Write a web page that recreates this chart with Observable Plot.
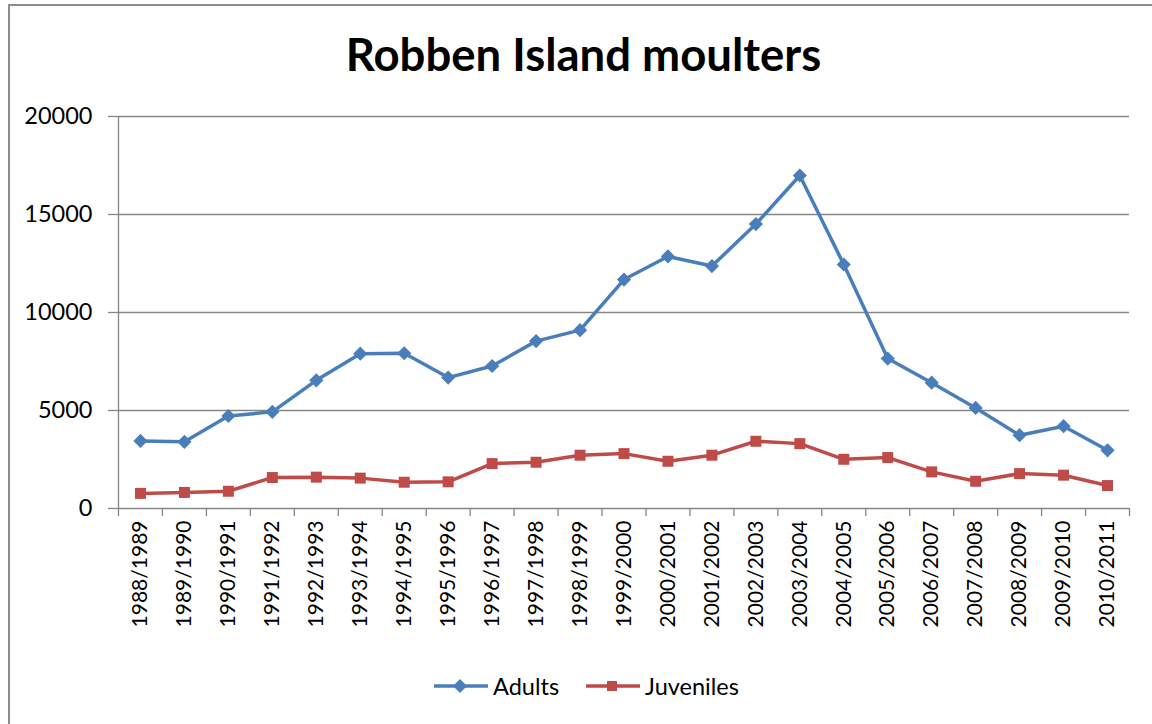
<!DOCTYPE html>
<html><head><meta charset="utf-8">
<script src="https://cdn.jsdelivr.net/npm/d3@7"></script>
<script src="https://cdn.jsdelivr.net/npm/@observablehq/plot@0.6"></script>
<style>
html,body{margin:0;padding:0;background:#fff;}
#wrap{position:relative;width:1152px;height:724px;overflow:hidden;font-family:Lato,sans-serif;color:#000;}
#frame{position:absolute;left:8px;top:4px;width:1300px;height:900px;border-left:2px solid #8c8c8c;border-top:2px solid #8c8c8c;}
#title{position:absolute;left:0;width:1167px;top:27px;text-align:center;font-weight:bold;font-size:45.5px;line-height:54px;}
#chart{position:absolute;left:0;top:90px;}
#legend{position:absolute;left:433px;top:671px;display:flex;align-items:center;font-size:23.5px;line-height:30px;}
#legend .item{display:flex;align-items:center;}
#legend svg{display:block;}
</style>
</head><body>
<div id="wrap">
  <div id="frame"></div>
  <div id="title">Robben Island moulters</div>
  <div id="chart"></div>
  <div id="legend"></div>
</div>
<script>
const categories = ["1988/1989","1989/1990","1990/1991","1991/1992","1992/1993","1993/1994","1994/1995","1995/1996","1996/1997","1997/1998","1998/1999","1999/2000","2000/2001","2001/2002","2002/2003","2003/2004","2004/2005","2005/2006","2006/2007","2007/2008","2008/2009","2009/2010","2010/2011"];
const adults = [3450, 3400, 4720, 4930, 6540, 7900, 7920, 6680, 7270, 8540, 9100, 11680, 12860, 12370, 14510, 16990, 12450, 7650, 6420, 5130, 3740, 4200, 2970];
const juveniles = [770, 820, 880, 1580, 1600, 1550, 1340, 1360, 2290, 2360, 2720, 2800, 2410, 2720, 3430, 3310, 2510, 2600, 1870, 1390, 1780, 1700, 1170];
const yTicks = [0, 5000, 10000, 15000, 20000];
const seriesNames = ["Adults", "Juveniles"];
const seriesColors = ["#4A7EBB", "#BE4B48"];

const centers = categories.map((c, i) => i + 0.5);
const boundaries = d3.range(0, categories.length + 1);
const adultRows = categories.map((c, i) => ({pos: centers[i], cat: c, value: adults[i]}));
const juvRows = categories.map((c, i) => ({pos: centers[i], cat: c, value: juveniles[i]}));
const gray = "#868686";

const chart = Plot.plot({
  width: 1152, height: 560,
  marginLeft: 118, marginRight: 23, marginTop: 26, marginBottom: 142,
  style: {fontFamily: "Lato, sans-serif", fontSize: "22px", color: "#000", background: "transparent", overflow: "visible"},
  x: {type: "linear", domain: [0, categories.length], axis: null},
  y: {domain: [0, 20000], axis: null},
  marks: [
    Plot.ruleY(yTicks.slice(1), {stroke: gray, strokeWidth: 1.3}),
    Plot.ruleY([0], {stroke: gray, strokeWidth: 1.3}),
    Plot.ruleX([0], {stroke: gray, strokeWidth: 1.3}),
    Plot.axisY({ticks: yTicks, tickSize: 10, tickPadding: 16, stroke: gray, strokeWidth: 1.3, fill: "#000", fontSize: 23.5, tickFormat: d => String(d), label: null}),
    Plot.axisX({ticks: boundaries, tickSize: 8, stroke: gray, strokeWidth: 1.3, tickFormat: () => "", label: null}),
    Plot.axisX({ticks: centers, tickSize: 0, tickPadding: 12, tickRotate: -90, fill: "#000", fontSize: 21,
      tickFormat: d => categories[Math.round(d - 0.5)], label: null}),
    Plot.line(adultRows, {x: "pos", y: "value", stroke: seriesColors[0], strokeWidth: 3.5}),
    Plot.dot(adultRows, {x: "pos", y: "value", symbol: "diamond2", r: 6.4, fill: seriesColors[0], stroke: "none"}),
    Plot.line(juvRows, {x: "pos", y: "value", stroke: seriesColors[1], strokeWidth: 3.5}),
    Plot.dot(juvRows, {x: "pos", y: "value", symbol: "square", r: 6.2, fill: seriesColors[1], stroke: "none"})
  ]
});
document.getElementById("chart").appendChild(chart);

// legend
const legend = document.getElementById("legend");
const symbols = ["diamond", "square"];
seriesNames.forEach((name, i) => {
  const item = document.createElement("div");
  item.className = "item";
  item.style.marginRight = i === 0 ? "26px" : "0";
  const sw = d3.create("svg").attr("width", 56).attr("height", 20);
  sw.append("line").attr("x1", 1).attr("x2", 55).attr("y1", 10).attr("y2", 10)
    .attr("stroke", seriesColors[i]).attr("stroke-width", 3.5);
  if (symbols[i] === "diamond") {
    sw.append("path").attr("d", "M27,3 L34,10 L27,17 L20,10 Z").attr("fill", seriesColors[i]);
  } else {
    sw.append("rect").attr("x", 22).attr("y", 5).attr("width", 10).attr("height", 10).attr("fill", seriesColors[i]);
  }
  item.appendChild(sw.node());
  const t = document.createElement("span");
  t.textContent = name;
  t.style.marginLeft = "4px";
  item.appendChild(t);
  legend.appendChild(item);
});
</script>
</body></html>
